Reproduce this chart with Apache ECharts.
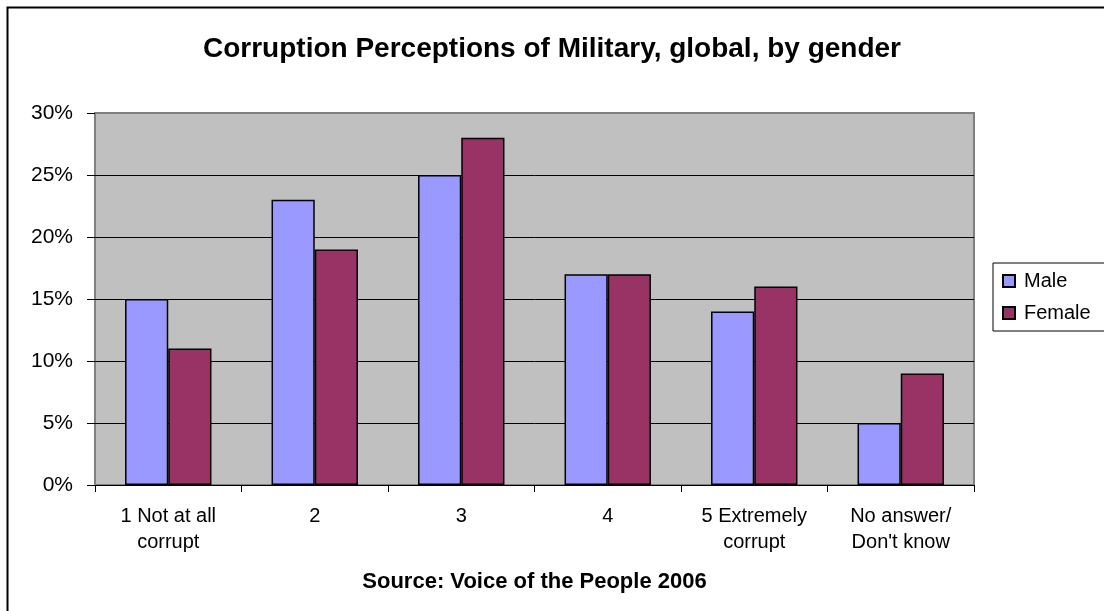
<!DOCTYPE html>
<html>
<head>
<meta charset="utf-8">
<style>
  html, body { margin: 0; padding: 0; background: #ffffff; }
  #chart { width: 1104px; height: 611px; }
</style>
<script src="https://cdn.jsdelivr.net/npm/echarts@6/dist/echarts.min.js"></script>
</head>
<body>
<div id="chart"></div>
<script>
// Response categories on the x axis
const categories = [
  '1 Not at all\ncorrupt',
  '2',
  '3',
  '4',
  '5 Extremely\ncorrupt',
  'No answer/\nDon\'t know'
];

// Share of respondents (%) per response, by gender
const maleValues = [15, 23, 25, 17, 14, 5];
const femaleValues = [11, 19, 28, 17, 16, 9];

// Y axis range and step (%)
const yMin = 0;
const yMax = 30;
const yStep = 5;

const FONT = '"Liberation Sans", Arial, sans-serif';

const chart = echarts.init(document.getElementById('chart'), null, { renderer: 'canvas' });

// 0% .. 25% lines in black, the top one blends into the grey plot frame
const splitColors = [];
for (let v = yMin; v <= yMax; v += yStep) {
  splitColors.push(v === yMax ? '#808080' : '#000000');
}

chart.setOption({
  animation: false,
  backgroundColor: '#ffffff',
  textStyle: { fontFamily: FONT, color: '#000' },
  title: {
    text: 'Corruption Perceptions of Military, global, by gender',
    left: 'center',
    top: 30,
    textStyle: { fontFamily: FONT, fontSize: 28, fontWeight: 'bold', color: '#000' }
  },
  legend: {
    left: 993,
    top: 263,
    orient: 'vertical',
    icon: 'rect',
    itemWidth: 12,
    itemHeight: 12,
    itemGap: 12,
    padding: [8, 20, 8, 9],
    backgroundColor: '#ffffff',
    borderColor: '#000000',
    borderWidth: 1,
    borderRadius: 0,
    textStyle: { fontFamily: FONT, fontSize: 20, color: '#000', padding: [0, 0, 0, 4] },
    data: ['Male', 'Female']
  },
  grid: {
    left: 95,
    right: 130,
    top: 113,
    bottom: 126,
    show: true,
    backgroundColor: '#c0c0c0',
    borderColor: '#808080',
    borderWidth: 2
  },
  xAxis: {
    type: 'category',
    data: categories,
    name: 'Source: Voice of the People 2006',
    nameLocation: 'middle',
    nameGap: 86,
    nameTextStyle: { fontFamily: FONT, fontSize: 22, fontWeight: 'bold', color: '#000' },
    axisLine: { show: true, lineStyle: { color: '#000', width: 1 } },
    axisTick: { show: true, length: 7, lineStyle: { color: '#000' } },
    axisLabel: {
      fontFamily: FONT,
      fontSize: 20,
      lineHeight: 26,
      color: '#000',
      margin: 18,
      interval: 0
    }
  },
  yAxis: {
    type: 'value',
    min: yMin,
    max: yMax,
    interval: yStep,
    axisLine: { show: false },
    axisTick: { show: true, length: 8, lineStyle: { color: '#000' } },
    axisLabel: {
      fontFamily: FONT,
      fontSize: 21,
      color: '#000',
      margin: 22,
      formatter: '{value}%'
    },
    splitLine: { show: true, lineStyle: { color: splitColors, width: 1 } }
  },
  series: [
    {
      name: 'Male',
      type: 'bar',
      data: maleValues,
      barGap: '0%',
      barCategoryGap: '41%',
      itemStyle: { color: '#9999ff', borderColor: '#000', borderWidth: 1.5 }
    },
    {
      name: 'Female',
      type: 'bar',
      data: femaleValues,
      barGap: '0%',
      barCategoryGap: '41%',
      itemStyle: { color: '#993366', borderColor: '#000', borderWidth: 1.5 }
    }
  ],
  graphic: [
    {
      type: 'rect',
      left: 5,
      top: 5,
      silent: true,
      z: 100,
      shape: { x: 0, y: 0, width: 1120, height: 630 },
      style: { fill: 'none', stroke: '#000', lineWidth: 2 }
    }
  ]
});
</script>
</body>
</html>
